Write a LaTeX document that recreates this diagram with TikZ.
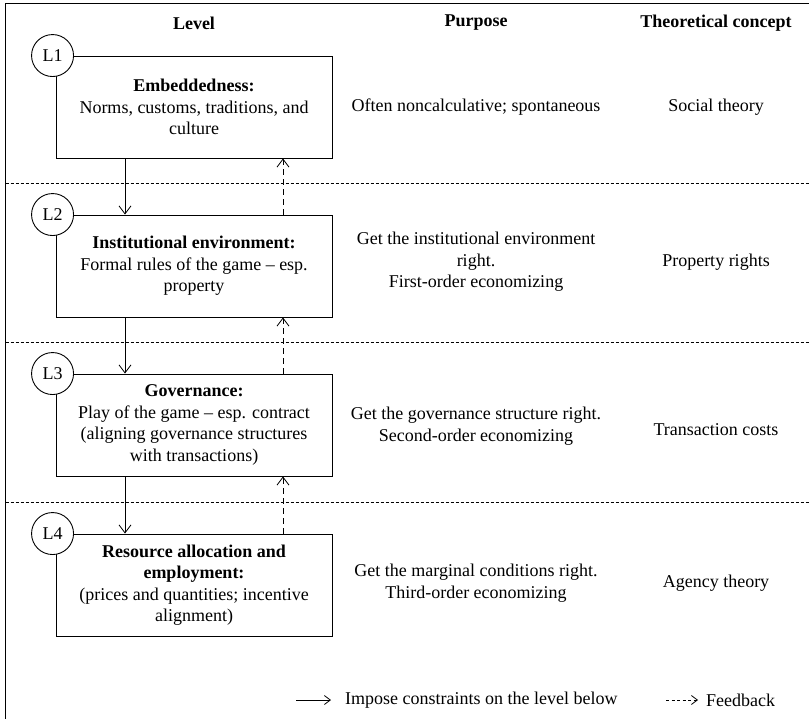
\documentclass[tikz,border=0pt]{standalone}
\usepackage{fontspec}
\setmainfont{Liberation Serif}
\usetikzlibrary{arrows.meta}
\begin{document}
\begin{tikzpicture}[x=1pt,y=-1pt,
  txt/.style={font=\fontsize{18}{21.5}\selectfont, align=center, inner sep=0pt},
  hdr/.style={txt, font=\fontsize{18}{21.5}\selectfont\bfseries},
  lvlbox/.style={draw, line width=0.9pt, minimum width=276pt, minimum height=102pt, inner sep=0pt, txt},
  lvlcirc/.style={draw, circle, fill=white, line width=0.9pt, minimum size=42pt, inner sep=0pt, txt},
  sep/.style={line width=0.6pt, dash pattern=on 3pt off 2pt},
  down/.style={-{Straight Barb[length=8pt,width=12pt,line width=0.8pt]}, line width=0.8pt},
  fb/.style={down, dash pattern=on 6pt off 4pt},
  legarr/.style={-{Straight Barb[length=6pt,width=9pt,line width=0.8pt]}, line width=0.8pt}]
\useasboundingbox (0,0) rectangle (809,719);
% frame
\draw[line width=1.2pt] (809,3.5) -- (5.5,3.5) -- (5.5,719);
% headers
\node[hdr] (h1) at (194,23) {Level};
\node[hdr] (h2) at (476,23) {Purpose};
\node[hdr] (h3) at (716,23) {Theoretical concept};
% separators
\draw[sep] (5.5,183) -- (809,183);
\draw[sep] (5.5,342) -- (809,342);
\draw[sep] (5.5,502) -- (809,502);
% boxes
\node[lvlbox] (b1) at (194,107) {\textbf{Embeddedness:}\\Norms, customs, traditions, and\\culture};
\node[lvlbox] (b2) at (194,266) {\textbf{Institutional environment:}\\Formal rules of the game -- esp.\\property};
\node[lvlbox] (b3) at (194,425) {\textbf{Governance:}\\Play of the game -- esp. contract\\(aligning governance structures\\with transactions)};
\node[lvlbox] (b4) at (194,585) {\textbf{Resource allocation and}\\\textbf{employment:}\\(prices and quantities; incentive\\alignment)};
% circles
\node[lvlcirc] (c1) at (b1.north west) [xshift=-3pt] {L1};
\node[lvlcirc] (c2) at (b2.north west) [xshift=-3pt] {L2};
\node[lvlcirc] (c3) at (b3.north west) [xshift=-3pt] {L3};
\node[lvlcirc] (c4) at (b4.north west) [xshift=-3pt] {L4};
% purpose
\node[txt] (p1) at (476,107) {Often noncalculative; spontaneous};
\node[txt] (p2) at (476,262) {Get the institutional environment\\right.\\First-order economizing};
\node[txt] (p3) at (476,426) {Get the governance structure right.\\Second-order economizing};
\node[txt] (p4) at (476,583) {Get the marginal conditions right.\\Third-order economizing};
% theory
\node[txt] (t1) at (716,107) {Social theory};
\node[txt] (t2) at (716,262) {Property rights};
\node[txt] (t3) at (716,430) {Transaction costs};
\node[txt] (t4) at (716,583) {Agency theory};
% arrows
\draw[down] ([xshift=-69pt]b1.south) -- ([xshift=-69pt]b2.north);
\draw[down] ([xshift=-69pt]b2.south) -- ([xshift=-69pt]b3.north);
\draw[down] ([xshift=-69pt]b3.south) -- ([xshift=-69pt]b4.north);
\draw[fb] ([xshift=89pt]b2.north) -- ([xshift=89pt]b1.south);
\draw[fb] ([xshift=89pt]b3.north) -- ([xshift=89pt]b2.south);
\draw[fb] ([xshift=89pt]b4.north) -- ([xshift=89pt]b3.south);
% legend
\coordinate (la1) at (296,700);
\coordinate (la2) at (331,700);
\node[txt, anchor=west] (lt1) at (345,700) {Impose constraints on the level below};
\coordinate (lb1) at (666,700);
\coordinate (lb2) at (698,700);
\node[txt, anchor=west] (lt2) at (706,700) {Feedback};
\draw[legarr] (la1) -- (la2);
\draw[legarr, dash pattern=on 3pt off 2.5pt] (lb1) -- (lb2);
\end{tikzpicture}
\end{document}
